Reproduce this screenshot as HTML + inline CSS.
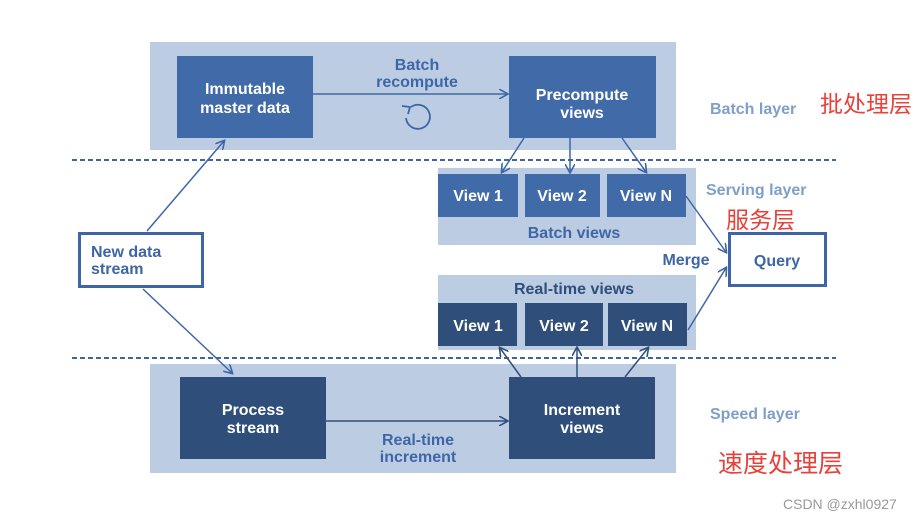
<!DOCTYPE html>
<html><head><meta charset="utf-8"><style>
body{margin:0;width:924px;height:520px;background:#fff;overflow:hidden;font-family:"Liberation Sans","Noto Sans CJK SC",sans-serif}
</style></head><body>
<svg width="924" height="520" xmlns="http://www.w3.org/2000/svg" font-family="Liberation Sans, Noto Sans CJK SC, sans-serif" font-weight="bold">
<defs>
<marker id="a" markerWidth="10" markerHeight="10" refX="8" refY="5" orient="auto" markerUnits="userSpaceOnUse"><path d="M0,0 L9,5 L0,10" fill="none" stroke="#3e66a6" stroke-width="1.6"/></marker>
<marker id="b" markerWidth="10" markerHeight="10" refX="8" refY="5" orient="auto" markerUnits="userSpaceOnUse"><path d="M0,0 L9,5 L0,10" fill="none" stroke="#2f4f7a" stroke-width="1.6"/></marker>
</defs>
<rect x="150" y="42" width="526" height="108" fill="#bccde3"/>
<rect x="150" y="364" width="526" height="109" fill="#bccde3"/>
<rect x="438" y="168" width="258" height="77" fill="#bccde3"/>
<rect x="438" y="275" width="258" height="75" fill="#bccde3"/>
<line x1="72" y1="160" x2="836" y2="160" stroke="#3e66a6" stroke-width="2" stroke-dasharray="5,3"/>
<line x1="72" y1="358" x2="836" y2="358" stroke="#3e66a6" stroke-width="2" stroke-dasharray="5,3"/>
<rect x="177" y="56" width="136" height="82" fill="#416aa8"/>
<rect x="509" y="56" width="147" height="82" fill="#416aa8"/>
<rect x="438" y="174" width="80" height="43" fill="#416aa8"/>
<rect x="525" y="174" width="75" height="43" fill="#416aa8"/>
<rect x="607" y="174" width="79" height="43" fill="#416aa8"/>
<rect x="438" y="303" width="79" height="43" fill="#2f4f7a"/>
<rect x="525" y="303" width="78" height="43" fill="#2f4f7a"/>
<rect x="608" y="303" width="79" height="43" fill="#2f4f7a"/>
<rect x="180" y="377" width="146" height="82" fill="#2f4f7a"/>
<rect x="509" y="377" width="146" height="82" fill="#2f4f7a"/>
<rect x="79.5" y="233.5" width="123" height="53" fill="#fff" stroke="#3e66a6" stroke-width="3"/>
<rect x="729.5" y="233.5" width="96" height="52" fill="#fff" stroke="#3e66a6" stroke-width="3"/>
<g stroke="#3e66a6" stroke-width="1.5" fill="none">
<line x1="313" y1="94" x2="507" y2="94" marker-end="url(#a)"/>
<line x1="147" y1="231" x2="224" y2="141" marker-end="url(#a)"/>
<line x1="143" y1="289" x2="232" y2="373" marker-end="url(#a)"/>
<line x1="524" y1="138" x2="502" y2="172" marker-end="url(#a)"/>
<line x1="570" y1="138" x2="570" y2="172" marker-end="url(#a)"/>
<line x1="622" y1="138" x2="646" y2="172" marker-end="url(#a)"/>
<line x1="686" y1="196" x2="726" y2="252" marker-end="url(#a)"/>
<line x1="688" y1="330" x2="726" y2="268" marker-end="url(#a)"/>
<path d="M411,107 A12,12 0 1 1 406,118" stroke-width="1.8"/>
<path d="M402,106 L410,107 L408,114" stroke-width="1.8"/>
</g>
<g stroke="#2f4f7a" stroke-width="1.5">
<line x1="326" y1="421" x2="507" y2="421" marker-end="url(#b)"/>
<line x1="521" y1="377" x2="500" y2="348" marker-end="url(#b)"/>
<line x1="577" y1="377" x2="577" y2="348" marker-end="url(#b)"/>
<line x1="625" y1="377" x2="648" y2="348" marker-end="url(#b)"/>
</g>
<g fill="#fff" font-size="16" text-anchor="middle">
<text x="245" y="94">Immutable</text><text x="245" y="113">master data</text>
<text x="582" y="100">Precompute</text><text x="582" y="118">views</text>
<text x="478" y="201">View 1</text><text x="562" y="201">View 2</text><text x="646" y="201">View N</text>
<text x="478" y="331">View 1</text><text x="564" y="331">View 2</text><text x="647" y="331">View N</text>
<text x="253" y="415">Process</text><text x="253" y="433">stream</text>
<text x="582" y="415">Increment</text><text x="582" y="433">views</text>
</g>
<g fill="#3e66a6" font-size="16" text-anchor="middle">
<text x="417" y="70">Batch</text><text x="417" y="87">recompute</text>
<text x="574" y="238">Batch views</text>
<text x="686" y="265">Merge</text>
<text x="777" y="266">Query</text>
<text x="418" y="445">Real-time</text><text x="418" y="462">increment</text>
</g>
<g fill="#3e66a6" font-size="16"><text x="91" y="257">New data</text><text x="91" y="274">stream</text></g>
<text x="574" y="294" fill="#2f4f7a" font-size="16" text-anchor="middle">Real-time views</text>
<g fill="#7f9fcb" font-size="16">
<text x="710" y="114">Batch layer</text>
<text x="706" y="195">Serving layer</text>
<text x="710" y="419">Speed layer</text>
</g>
<g fill="#e8413a" font-weight="normal">
<text x="820" y="112" font-size="23">批处理层</text>
<text x="726" y="228" font-size="23">服务层</text>
<text x="718" y="472" font-size="25">速度处理层</text>
</g>
<text x="783" y="509" fill="#999" font-size="14" font-weight="normal">CSDN @zxhl0927</text>
</svg>
</body></html>
